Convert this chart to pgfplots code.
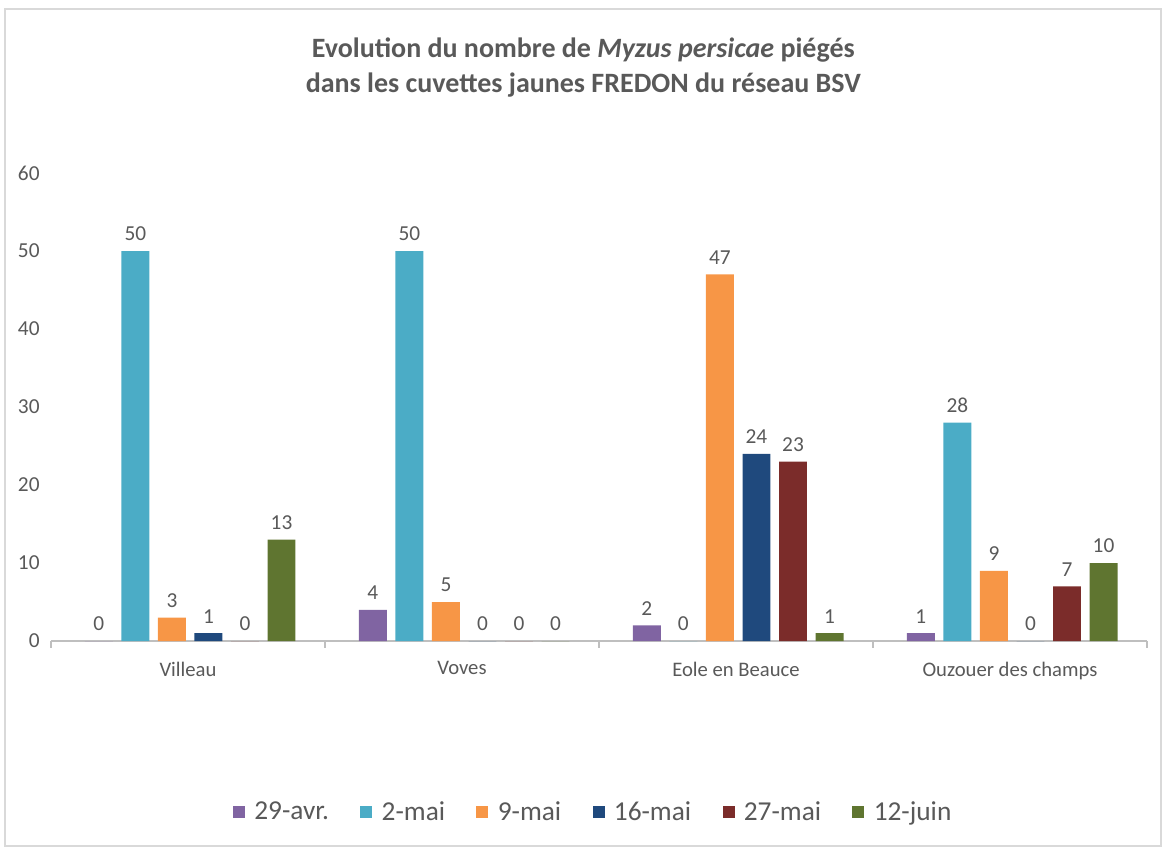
\documentclass[border=0pt]{standalone}
\usepackage{pgfplots}
\pgfplotsset{compat=1.18}
\usepackage{fontspec}
\setmainfont{Carlito}
\definecolor{cpurple}{HTML}{8064A2}
\definecolor{ccyan}{HTML}{4BACC6}
\definecolor{corange}{HTML}{F79646}
\definecolor{cnavy}{HTML}{1F497D}
\definecolor{cdred}{HTML}{7B2C2A}
\definecolor{cgreen}{HTML}{5F7530}
\definecolor{txt}{HTML}{595959}
\definecolor{axl}{HTML}{BFBFBF}
\begin{document}
\begin{tikzpicture}
\path[use as bounding box] (0,0) rectangle (874.5pt,637.5pt);
\draw[draw=black!15, line width=1pt] (3.75pt,3pt) rectangle (870.75pt,630.75pt);
\node[align=center, font=\fontsize{21}{26.5}\selectfont\bfseries, text=txt] at (437.5pt,587pt)
  {Evolution du nombre de \textit{Myzus persicae} piégés\\dans les cuvettes jaunes FREDON du réseau BSV};
\begin{axis}[
  at={(38.25pt,156.75pt)}, anchor=south west,
  scale only axis, width=822pt, height=351pt,
  xmin=-0.5, xmax=3.5, ymin=0, ymax=60,
  ybar, bar width=0.102,
  axis y line=none,
  axis x line*=bottom,
  x axis line style={axl, line width=0.8pt, -},
  xtick={0,1,2,3},
  xticklabels={Villeau,Voves,Eole en Beauce,Ouzouer des champs},
  major tick length=0pt,
  extra x ticks={-0.5,0.5,1.5,2.5,3.5},
  extra x tick labels={},
  extra x tick style={major tick length=5pt, tick align=outside, tick style={axl, line width=0.8pt}},
  xticklabel style={font=\fontsize{15.5}{18}\selectfont, text=txt, yshift=-12pt},
  ytick={0,10,20,30,40,50,60},
  clip=false,
  nodes near coords,
  every node near coord/.append style={font=\fontsize{16}{18}\selectfont, text=txt, yshift=4pt},
  /pgf/number format/assume math mode=true,
  legend style={at={(0.495,-0.365)}, anchor=center, draw=none, legend columns=6,
    font=\fontsize{20.5}{22}\selectfont, text=txt,
    /tikz/every even column/.append style={column sep=21.5pt}},
  legend image code/.code={\fill[#1] (0pt,-4.5pt) rectangle (9pt,4.5pt); \path (14pt,0pt);},
]
\addplot[fill=cpurple, draw=none, bar shift=-0.3253] coordinates {(0,0) (1,4) (2,2) (3,1)};
\addplot[fill=ccyan, draw=none, bar shift=-0.192] coordinates {(0,50) (1,50) (2,0) (3,28)};
\addplot[fill=corange, draw=none, bar shift=-0.0587] coordinates {(0,3) (1,5) (2,47) (3,9)};
\addplot[fill=cnavy, draw=none, bar shift=0.0747] coordinates {(0,1) (1,0) (2,24) (3,0)};
\addplot[fill=cdred, draw=none, bar shift=0.208] coordinates {(0,0) (1,0) (2,23) (3,7)};
\addplot[fill=cgreen, draw=none, bar shift=0.3413] coordinates {(0,13) (1,0) (2,1) (3,10)};
\legend{29-avr.,2-mai,9-mai,16-mai,27-mai,12-juin}
\end{axis}
\begin{axis}[
  at={(38.25pt,156.75pt)}, anchor=south west,
  scale only axis, width=822pt, height=351pt,
  xmin=-0.5, xmax=3.5, ymin=0, ymax=60,
  axis x line=none, axis y line*=left,
  y axis line style={draw=none},
  ytick={0,10,20,30,40,50,60},
  major tick length=0pt,
  yticklabel style={font=\fontsize{16}{18}\selectfont, text=txt, xshift=-5pt},
  /pgf/number format/assume math mode=true,
]
\end{axis}
\end{tikzpicture}
\end{document}
